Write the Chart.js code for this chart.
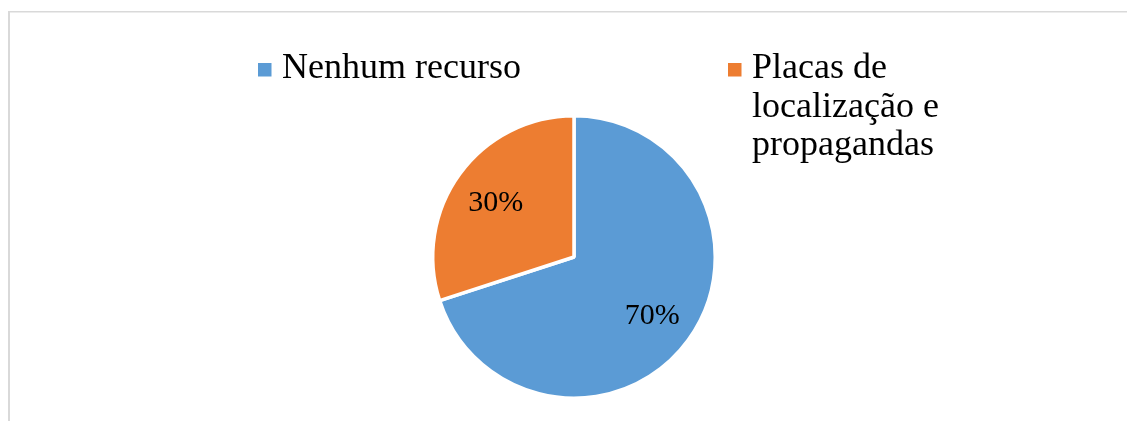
<!DOCTYPE html>
<html>
<head>
<meta charset="utf-8">
<script src="https://cdn.jsdelivr.net/npm/chart.js@4/dist/chart.umd.min.js"></script>
<style>
  html, body { margin: 0; padding: 0; background: #ffffff; }
  #wrap { position: relative; width: 1127px; height: 421px; overflow: hidden; }
</style>
</head>
<body>
<div id="wrap"><canvas id="c" width="1127" height="421"></canvas></div>
<script>
// ---- data ----
const categories = ["Nenhum recurso", "Placas de localização e propagandas"];
const legendLines = [["Nenhum recurso"], ["Placas de", "localização e", "propagandas"]];
const values = [70, 30];
const valueLabels = ["70%", "30%"];
const colors = ["#5B9BD5", "#ED7D31"];

const FONT = '"Liberation Serif", "Times New Roman", serif';

const framePlugin = {
  id: 'frame',
  beforeDraw(chart) {
    const ctx = chart.ctx;
    ctx.save();
    ctx.fillStyle = '#D9D9D9';
    ctx.fillRect(8, 11, 1119, 1.5);
    ctx.fillRect(8, 11, 2, 410);
    ctx.restore();
  }
};

const labelPlugin = {
  id: 'sliceLabels',
  afterDatasetsDraw(chart) {
    const ctx = chart.ctx;
    const meta = chart.getDatasetMeta(0);
    ctx.save();
    ctx.font = '30px ' + FONT;
    ctx.fillStyle = '#000000';
    ctx.textAlign = 'center';
    ctx.textBaseline = 'alphabetic';
    meta.data.forEach((arc, i) => {
      const p = arc.getProps(['x', 'y', 'startAngle', 'endAngle', 'outerRadius'], true);
      const mid = (p.startAngle + p.endAngle) / 2;
      const r = p.outerRadius * 0.685;
      // place the visual centre of the digits on the radial point
      ctx.fillText(valueLabels[i], p.x + Math.cos(mid) * r, p.y + Math.sin(mid) * r + 10.5);
    });
    ctx.restore();
  }
};

// legend layout (positions only)
const legendLayout = [
  { box: [258, 63], textX: 282, baseline: 78 },
  { box: [728, 63], textX: 752, baseline: 78 }
];
const legendLineStep = 38.5;

const legendPlugin = {
  id: 'customLegend',
  afterDraw(chart) {
    const ctx = chart.ctx;
    const ds = chart.data.datasets[0];
    ctx.save();
    ctx.font = '36px ' + FONT;
    ctx.textAlign = 'left';
    ctx.textBaseline = 'alphabetic';
    legendLines.forEach((lines, i) => {
      const L = legendLayout[i];
      ctx.fillStyle = ds.backgroundColor[i];
      ctx.fillRect(L.box[0], L.box[1], 13.5, 13.5);
      ctx.fillStyle = '#000000';
      lines.forEach((t, j) => ctx.fillText(t, L.textX, L.baseline + j * legendLineStep));
    });
    ctx.restore();
  }
};

new Chart(document.getElementById('c'), {
  type: 'pie',
  data: {
    labels: categories,
    datasets: [{
      data: values,
      backgroundColor: colors,
      borderColor: '#ffffff',
      borderWidth: 3.5,
      hoverOffset: 0,
      offset: 0
    }]
  },
  options: {
    responsive: false,
    animation: false,
    devicePixelRatio: 1,
    layout: { padding: { top: 114, bottom: 21, left: 21, right: 0 } },
    plugins: {
      legend: { display: false },
      tooltip: { enabled: false }
    }
  },
  plugins: [framePlugin, labelPlugin, legendPlugin]
});
</script>
</body>
</html>
